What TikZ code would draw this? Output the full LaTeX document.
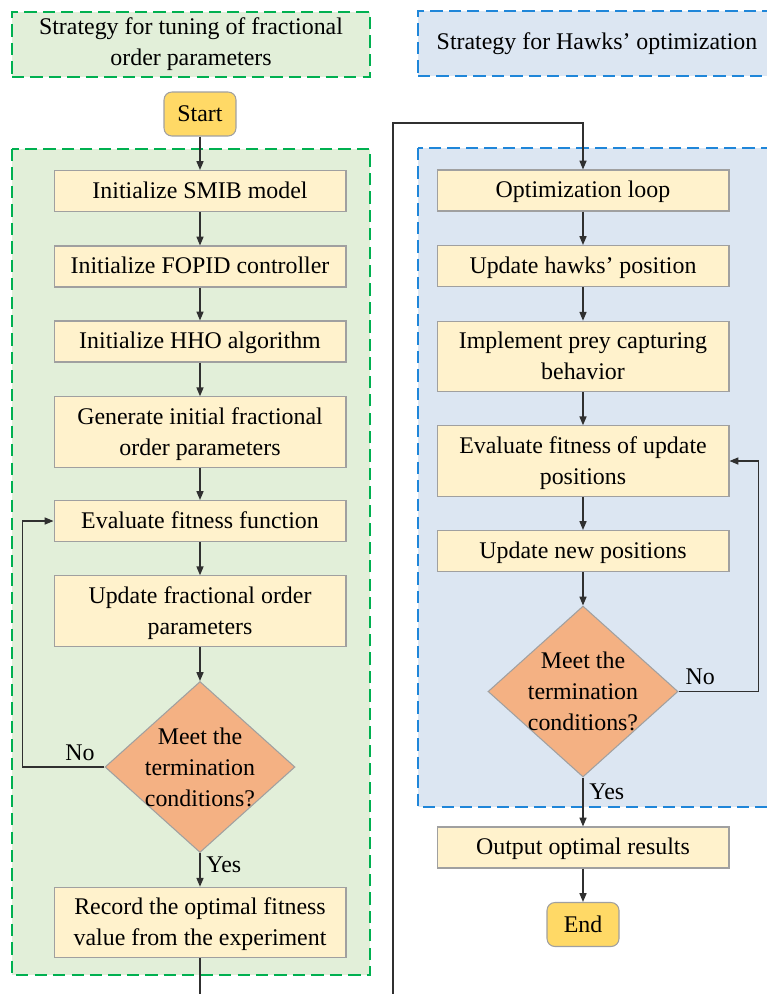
\documentclass[tikz,border=0pt]{standalone}
\usepackage{fontspec}
\setmainfont{Liberation Serif}
\usepackage{tikz}
\usetikzlibrary{arrows.meta, positioning, shapes.geometric}
\usepackage{xcolor}

\definecolor{boxfill}{HTML}{FFF2CC}
\definecolor{boxline}{HTML}{A0A0A0}
\definecolor{decfill}{HTML}{F4B183}
\definecolor{termfill}{HTML}{FFD966}
\definecolor{greenfill}{HTML}{E2EFD9}
\definecolor{greenline}{HTML}{00B050}
\definecolor{bluefill}{HTML}{DCE6F2}
\definecolor{blueline}{HTML}{1F86D9}
\definecolor{lineclr}{HTML}{303030}

\begin{document}
\begin{tikzpicture}[x=0.02cm, y=-0.02cm,
        font=\fontsize{13.6}{17.6}\selectfont,
        procbox/.style={draw=boxline, fill=boxfill, line width=0.6pt, minimum width=5.84cm, minimum height=0.82cm, inner sep=2pt, align=center, text depth=1pt},
        tallbox/.style={procbox, minimum height=1.41cm},
        decide/.style={diamond, draw=boxline, fill=decfill, line width=0.6pt, minimum width=3.8cm, minimum height=3.42cm, inner sep=-3pt, align=center},
        terminal/.style={draw=boxline, fill=termfill, line width=0.6pt, rounded corners=4.5pt, minimum width=1.44cm, minimum height=0.88cm},
        zone/.style={line width=0.8pt, dash pattern=on 7pt off 3.5pt},
        header/.style={zone, minimum width=7.16cm, minimum height=1.3cm, align=center},
        flow/.style={draw=lineclr, line width=0.7pt, -{Triangle[length=5pt, width=4pt]}}]

        \clip (0,0) rectangle (767,994);

        % Dashed zones
        \filldraw[zone, fill=greenfill, draw=greenline] (12,149) rectangle (370,975);
        \filldraw[zone, fill=bluefill, draw=blueline] (418,148) rectangle (776,807);

        \node[header, fill=greenfill, draw=greenline] (lefthead) at (191,44.5) {Strategy for tuning of fractional\\order parameters};
        \node[header, fill=bluefill, draw=blueline] (righthead) at (597,43.5) {Strategy for Hawks’ optimization};

        % Left column
        \node[terminal] (start) at (200,114) {Start};
        \node[procbox] (smib) at (200,191) {Initialize SMIB model};
        \node[procbox] (fopid) at (200,266.5) {Initialize FOPID controller};
        \node[procbox] (hho) at (200,341.5) {Initialize HHO algorithm};
        \node[tallbox] (gen) at (200,432) {Generate initial fractional\\order parameters};
        \node[procbox] (evalf) at (200,521) {Evaluate fitness function};
        \node[tallbox] (updf) at (200,611) {Update fractional order\\parameters};
        \node[decide] (decl) at (200,767) {Meet the\\termination\\conditions?};
        \node[tallbox] (rec) at (200,922.5) {Record the optimal fitness\\value from the experiment};

        % Right column
        \node[procbox] (optl) at (583,190.5) {Optimization loop};
        \node[procbox] (hawk) at (583,266) {Update hawks’ position};
        \node[tallbox] (prey) at (583,356.5) {Implement prey capturing\\behavior};
        \node[tallbox] (evalu) at (583,461) {Evaluate fitness of update\\positions};
        \node[procbox] (newpos) at (583,551) {Update new positions};
        \node[decide] (decr) at (583,691.5) {Meet the\\termination\\conditions?};
        \node[procbox] (outp) at (583,847.5) {Output optimal results};
        \node[terminal] (stop) at (583,924.5) {End};

        % Straight arrows
        \foreach \a/\b in {start/smib, smib/fopid, fopid/hho, hho/gen, gen/evalf, evalf/updf, updf/decl,
                           optl/hawk, hawk/prey, prey/evalu, evalu/newpos, newpos/decr, outp/stop}
            \draw[flow] (\a) -- (\b);

        \draw[flow] (decl.south) -- node[right, pos=0.35] {Yes} (rec.north);
        \draw[flow] (decr.south) -- node[right, pos=0.3] {Yes} (outp.north);

        % Loops back
        \draw[flow] (decl.west) -- node[above, pos=0.3] {No} ++(-82,0) |- (evalf.west);
        \draw[flow] (decr.east) -- node[above, pos=0.27] {No} ++(80,0) |- (evalu.east);

        % Jump to the second column
        \coordinate (bendlow) at (393,1010);
        \coordinate (bendtop) at (393,123);
        \draw[flow] (rec.south) |- (bendlow) -- (bendtop) -| (optl.north);

\end{tikzpicture}
\end{document}
